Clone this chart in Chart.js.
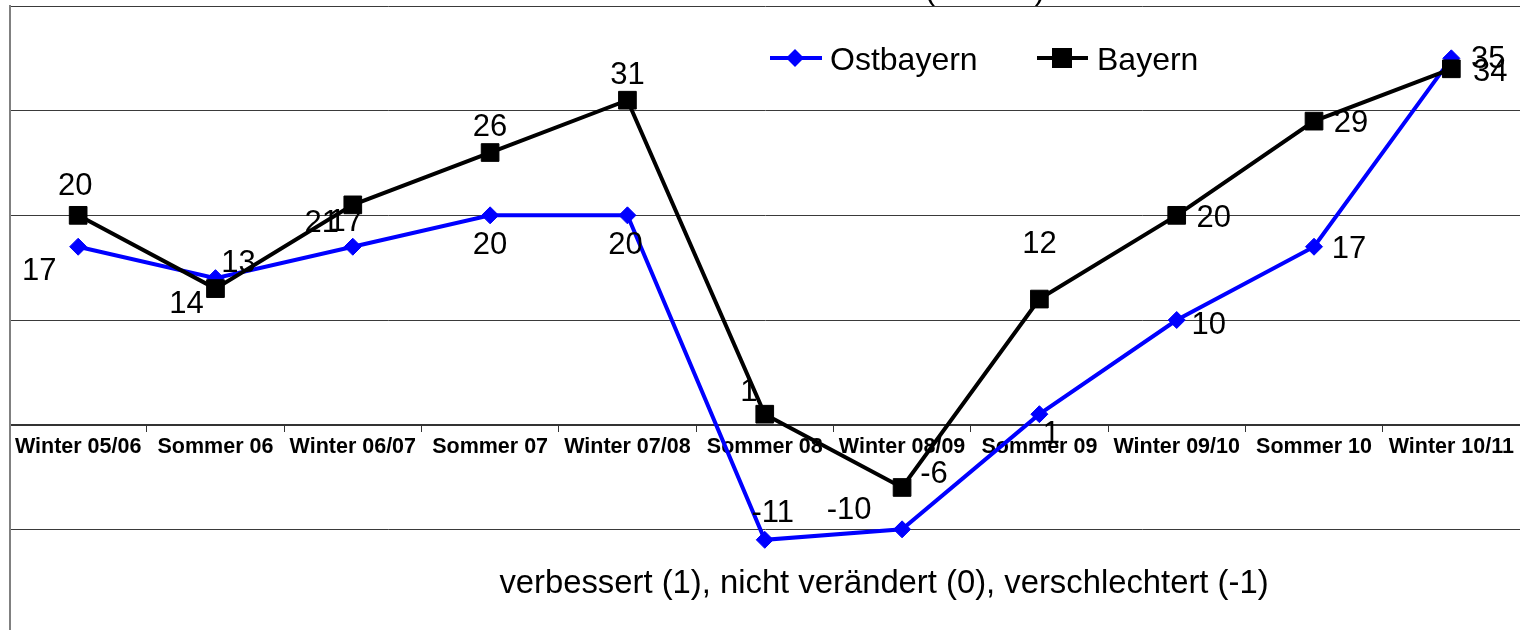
<!DOCTYPE html>
<html>
<head>
<meta charset="utf-8">
<title>Ostbayern / Bayern</title>
<script src="https://cdn.jsdelivr.net/npm/chart.js@4.4.1/dist/chart.umd.min.js"></script>
<style>
  html, body { margin: 0; padding: 0; background: #fff; overflow: hidden; }
  #wrap { position: relative; width: 1520px; height: 630px; overflow: hidden; }
  canvas { display: block; }
</style>
</head>
<body>
<div id="wrap"><canvas id="myChart" width="1520" height="640"></canvas></div>
<script>
const categories = ['Winter 05/06', 'Sommer 06', 'Winter 06/07', 'Sommer 07', 'Winter 07/08', 'Sommer 08',
  'Winter 08/09', 'Sommer 09', 'Winter 09/10', 'Sommer 10', 'Winter 10/11'];
const ostbayern = [17, 14, 17, 20, 20, -11, -10, 1, 10, 17, 35];
const bayern = [20, 13, 21, 26, 31, 1, -6, 12, 20, 29, 34];
const yMin = -20;
const yMax = 40;
const yStep = 10;
const axisTitle = 'verbessert (1), nicht verändert (0), verschlechtert (-1)';

// where the value labels sit relative to their point (px), as in the original
const ostLabelOffsets = [[-39, 25], [-29, 26], [-7, -24], [0, 30], [-2, 30], [8, -26], [-53, -19], [12, 20], [32, 5], [35, 3], [37, 1]];
const bayernLabelOffsets = [[-3, -29], [23, -25], [-31, 19], [0, -25], [0, -25], [-16, -22], [32, -13], [0, -55], [37, 3], [37, 2], [39, 4]];

const FONT = 'Arial, "Liberation Sans", sans-serif';
let myChart;

document.addEventListener('DOMContentLoaded', function () {
  createChart();
});

// numbers next to the points
const valueLabels = {
  id: 'valueLabels',
  afterDatasetsDraw(chart) {
    const ctx = chart.ctx;
    ctx.save();
    ctx.font = '31px ' + FONT;
    ctx.fillStyle = '#000';
    ctx.textAlign = 'center';
    ctx.textBaseline = 'middle';
    chart.data.datasets.forEach((ds, i) => {
      const meta = chart.getDatasetMeta(i);
      meta.data.forEach((pt, j) => {
        const off = ds.labelOffsets[j];
        ctx.fillText(String(ds.data[j]), pt.x + off[0], pt.y + off[1]);
      });
    });
    ctx.restore();
  }
};

// legend inside the plot, axis title and the cut off chart title
const extras = {
  id: 'extras',
  afterDraw(chart) {
    const ctx = chart.ctx;
    ctx.save();

    // Ostbayern
    ctx.strokeStyle = '#0000ff';
    ctx.fillStyle = '#0000ff';
    ctx.lineWidth = 4;
    ctx.beginPath();
    ctx.moveTo(770, 58);
    ctx.lineTo(822, 58);
    ctx.stroke();
    ctx.beginPath();
    ctx.moveTo(795, 49);
    ctx.lineTo(804, 58);
    ctx.lineTo(795, 67);
    ctx.lineTo(786, 58);
    ctx.closePath();
    ctx.fill();

    // Bayern
    ctx.strokeStyle = '#000';
    ctx.fillStyle = '#000';
    ctx.beginPath();
    ctx.moveTo(1037, 58);
    ctx.lineTo(1088, 58);
    ctx.stroke();
    ctx.fillRect(1052, 48, 20, 20);

    ctx.font = '32px ' + FONT;
    ctx.textBaseline = 'alphabetic';
    ctx.textAlign = 'left';
    ctx.fillText('Ostbayern', 830, 70);
    ctx.fillText('Bayern', 1097, 70);

    ctx.font = '32.8px ' + FONT;
    ctx.textAlign = 'center';
    ctx.fillText(axisTitle, 884, 593);

    ctx.font = '31px ' + FONT;
    ctx.fillText('(', 930, -1);
    ctx.fillText(')', 1040, -1);
    ctx.restore();
  }
};

function createChart() {
  const ctx = document.getElementById('myChart').getContext('2d');
  myChart = new Chart(ctx, {
    type: 'line',
    data: {
      labels: categories,
      datasets: [{
        label: 'Ostbayern',
        data: ostbayern,
        labelOffsets: ostLabelOffsets,
        borderColor: '#0000ff',
        backgroundColor: '#0000ff',
        borderWidth: 4,
        pointStyle: 'rectRot',
        pointRadius: 8.5,
        pointBorderWidth: 1,
        tension: 0,
        fill: false,
        order: 1
      }, {
        label: 'Bayern',
        data: bayern,
        labelOffsets: bayernLabelOffsets,
        borderColor: '#000',
        backgroundColor: '#000',
        borderWidth: 4,
        pointStyle: 'rect',
        pointRadius: 12.5,
        pointBorderWidth: 1,
        tension: 0,
        fill: false,
        order: 0
      }]
    },
    options: {
      responsive: false,
      animation: false,
      events: [],
      layout: { autoPadding: false, padding: { left: 9.5, right: 0, top: 6, bottom: 6 } },
      plugins: {
        legend: { display: false },
        title: { display: false },
        tooltip: { enabled: false }
      },
      scales: {
        x: {
          type: 'category',
          offset: true,
          position: { y: 0 },
          afterFit: scale => {
            scale.height = 0;
            scale.paddingLeft = 0;
            scale.paddingRight = 0;
          },
          grid: { offset: true, drawOnChartArea: false, drawTicks: true, tickLength: 6, color: '#333', lineWidth: 1 },
          border: { display: true, color: '#333', width: 2 },
          ticks: {
            autoSkip: false,
            maxRotation: 0,
            padding: 4,
            color: '#000',
            font: { family: FONT, size: 21.5, weight: 'bold' }
          }
        },
        y: {
          min: yMin,
          max: yMax,
          afterFit: scale => { scale.width = 0; },
          grid: { color: '#3a3a3a', lineWidth: 1, drawTicks: false },
          border: { display: true, color: '#808080', width: 2 },
          ticks: { display: false, stepSize: yStep }
        }
      }
    },
    plugins: [valueLabels, extras]
  });
}
</script>
</body>
</html>
